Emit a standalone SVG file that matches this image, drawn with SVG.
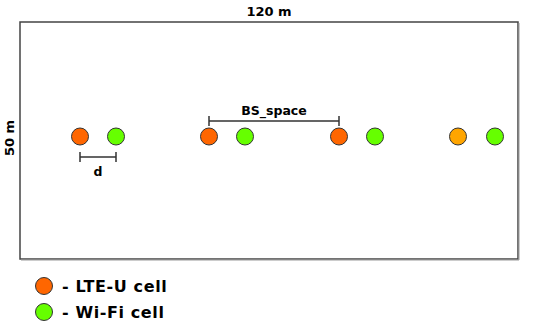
<svg xmlns="http://www.w3.org/2000/svg" width="550" height="324" viewBox="0 0 550 324">
<style>
text{font-family:"DejaVu Sans","Liberation Sans",sans-serif;font-weight:bold;fill:#000}
.lte{fill:#FF6600;stroke:#333;stroke-width:1}
.lte2{fill:#FFA500;stroke:#333;stroke-width:1}
.wifi{fill:#66FF00;stroke:#333;stroke-width:1}
.dim{stroke:#333;stroke-width:1.5;fill:none}
.leg{font-size:16px;letter-spacing:0.6px}
</style>
<rect width="550" height="324" fill="#fff"/>
<g id="area">
<rect x="20" y="22" width="498" height="237" fill="#fff" stroke="#444" stroke-width="1.5"/>
<path d="M21,260 H519 V23" fill="none" stroke="#999" stroke-width="1"/>
<text x="269" y="16" font-size="13" text-anchor="middle">120 m</text>
<text transform="translate(14,138) rotate(-90)" font-size="13" text-anchor="middle">50 m</text>
</g>
<g id="connectors">
<path class="dim" d="M80,157 H116 M80,152 V162 M116,152 V162"/>
<path class="dim" d="M209,121 H339 M209,116 V126 M339,116 V126"/>
</g>
<g id="labels">
<text x="98" y="176" font-size="12.5" text-anchor="middle">d</text>
<text x="274" y="115" font-size="12.5" text-anchor="middle">BS_space</text>
</g>
<g id="lte1"><circle class="lte" cx="80" cy="136.5" r="8.5"/></g>
<g id="wifi1"><circle class="wifi" cx="116" cy="136.5" r="8.5"/></g>
<g id="lte2"><circle class="lte" cx="209" cy="136.5" r="8.5"/></g>
<g id="wifi2"><circle class="wifi" cx="245" cy="136.5" r="8.5"/></g>
<g id="lte3"><circle class="lte" cx="339" cy="136.5" r="8.5"/></g>
<g id="wifi3"><circle class="wifi" cx="375" cy="136.5" r="8.5"/></g>
<g id="lte4"><circle class="lte2" cx="458" cy="136.5" r="8.5"/></g>
<g id="wifi4"><circle class="wifi" cx="495" cy="136.5" r="8.5"/></g>
<g id="legend">
<circle class="lte" cx="44" cy="286" r="8.5"/>
<text class="leg" x="62" y="291.5">- LTE-U cell</text>
<circle class="wifi" cx="44" cy="312" r="8.5"/>
<text class="leg" x="62" y="317.5">- Wi-Fi cell</text>
</g>
</svg>
